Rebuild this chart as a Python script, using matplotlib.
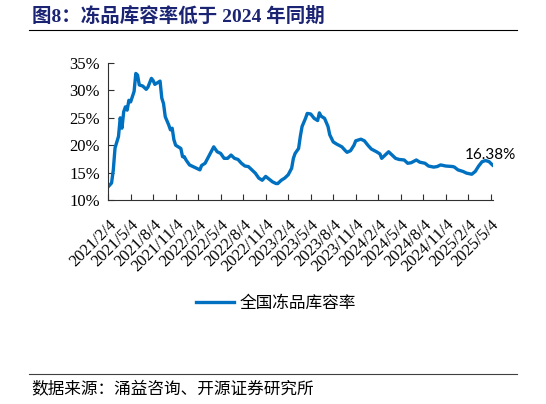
import matplotlib
matplotlib.use('Agg')
import matplotlib.pyplot as plt
from matplotlib.lines import Line2D

plt.rcParams['font.family'] = ['Liberation Serif', 'Noto Sans CJK SC']

# 周序号（自 2021/2/4 起）与全国冻品库容率（%）
weeks = [0, 2, 3, 4, 6, 7, 8, 9, 10, 11, 12, 13, 15, 16, 17, 18, 20, 22, 23, 25,
         26, 27, 28, 30, 31, 32, 33, 35, 36, 37, 38, 39, 41, 42, 43, 44, 45, 47, 49, 51,
         53, 54, 56, 58, 59, 60, 61, 63, 65, 67, 69, 71, 73, 75, 77, 79, 81, 83, 85, 87,
         89, 91, 93, 95, 97, 98, 100, 102, 104, 106, 107, 108, 110, 111, 112, 114, 115, 117, 119, 121,
         122, 123, 125, 127, 128, 130, 132, 135, 137, 138, 140, 142, 143, 146, 148, 150, 152, 155, 157, 158,
         160, 162, 164, 166, 168, 171, 173, 175, 178, 180, 183, 185, 188, 190, 192, 195, 199, 200, 202, 205,
         207, 210, 212, 214, 216, 218, 220, 222]
rate = [12.4, 13.1, 15.5, 19.5, 21.6, 25.0, 23.1, 26.1, 27.0, 26.4, 28.2, 27.9, 29.8, 33.1, 32.8, 31.0, 30.8, 30.2, 30.6, 32.2,
        31.8, 31.1, 31.3, 31.7, 28.6, 27.6, 25.2, 23.7, 22.8, 23.1, 21.0, 20.0, 19.6, 19.4, 17.9, 17.9, 17.3, 16.4, 16.1, 15.8,
        15.5, 16.3, 16.7, 17.9, 18.5, 19.1, 19.7, 18.8, 18.5, 17.6, 17.6, 18.2, 17.6, 17.4, 16.7, 16.2, 16.1, 15.5, 14.9, 14.0,
        13.6, 14.3, 13.8, 13.3, 13.0, 13.0, 13.6, 14.0, 14.6, 15.8, 17.6, 18.5, 19.4, 21.6, 23.4, 24.9, 25.8, 25.7, 24.9, 24.5,
        25.9, 25.3, 24.9, 23.4, 21.9, 20.6, 20.2, 19.7, 19.0, 18.7, 19.0, 20.0, 20.8, 21.1, 20.8, 20.0, 19.3, 18.8, 18.4, 17.6,
        18.2, 18.8, 18.2, 17.6, 17.4, 17.3, 16.7, 16.8, 17.3, 16.9, 16.7, 16.2, 16.0, 16.1, 16.4, 16.2, 16.1, 16.0, 15.5, 15.2,
        14.9, 14.7, 15.2, 16.2, 17.0, 17.2, 17.0, 16.38]

tick_weeks = [0, 13, 26, 39, 52, 65, 78, 91, 104, 117, 130, 143, 156, 169, 182, 195, 208, 221]
tick_labels = ['2021/2/4', '2021/5/4', '2021/8/4', '2021/11/4', '2022/2/4', '2022/5/4',
               '2022/8/4', '2022/11/4', '2023/2/4', '2023/5/4', '2023/8/4', '2023/11/4',
               '2024/2/4', '2024/5/4', '2024/8/4', '2024/11/4', '2025/2/4', '2025/5/4']
y_ticks = [10, 15, 20, 25, 30, 35]

fig = plt.figure(figsize=(5.46, 4.04), dpi=100)
ax = fig.add_axes([0.198, 0.505, 0.705, 0.339])

ax.plot(weeks, rate, color='#0070C0', lw=2.4, label='全国冻品库容率', solid_joinstyle='round')
ax.text(206, 18.3, '16.38%', fontsize=11, family=['Lato', 'DejaVu Sans'], va='center', ha='left')

ax.set_xlim(0, 222.3)
ax.set_ylim(10, 35)
ax.set_yticks(y_ticks)
ax.set_yticklabels([f'{v}%' for v in y_ticks], fontsize=12)
ax.set_xticks(tick_weeks)
ax.set_xticklabels(tick_labels, fontsize=12, rotation=45, ha='right', rotation_mode='anchor')
ax.tick_params(axis='both', direction='in', length=4, width=0.8, color='#303030')
ax.tick_params(axis='x', pad=12)
ax.tick_params(axis='y', pad=6)
for s in ['top', 'right']:
    ax.spines[s].set_visible(False)
for s in ['left', 'bottom']:
    ax.spines[s].set_color('#303030')
    ax.spines[s].set_linewidth(0.8)

fig.legend(loc='center', bbox_to_anchor=(0.505, 0.248), frameon=False,
           prop={'family': ['Noto Sans CJK SC'], 'size': 12},
           handlelength=2.3, handletextpad=0.3)

fig.text(32 / 546, 1 - 16 / 404, '图8：冻品库容率低于 2024 年同期', fontsize=14, fontweight='bold',
         color='#1b2473', va='center', ha='left')
fig.add_artist(Line2D([29 / 546, 517 / 546], [1 - 30 / 404, 1 - 30 / 404],
                      transform=fig.transFigure, color='black', lw=0.8))
fig.add_artist(Line2D([29 / 546, 517 / 546], [1 - 374 / 404, 1 - 374 / 404],
                      transform=fig.transFigure, color='#404040', lw=0.8))
fig.text(31 / 546, 1 - 389 / 404, '数据来源：涌益咨询、开源证券研究所', fontsize=12,
         family=['Noto Sans CJK SC'], va='center', ha='left')

fig.savefig('out.png', dpi=100)
